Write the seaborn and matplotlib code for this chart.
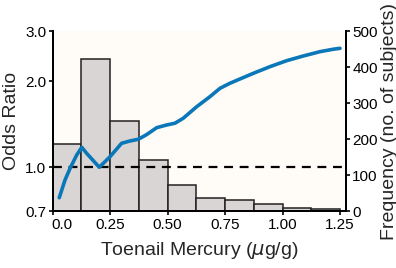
import matplotlib
matplotlib.use("Agg")
import matplotlib.pyplot as plt
import matplotlib.transforms as mtransforms
from matplotlib.ticker import FixedLocator, NullLocator
import numpy as np
import pandas as pd
import seaborn as sns

sns.set_theme(style="ticks")
plt.rcParams['font.family'] = ['Liberation Sans', 'DejaVu Sans']

# Histogram of subjects (bin edges in ug/g, counts)
bin_edges = [0.0, 0.125, 0.25, 0.375, 0.5, 0.625, 0.75, 0.875, 1.0, 1.125, 1.25]
bin_counts = [186, 421, 250, 141, 72, 37, 31, 21, 10, 6]

# Odds-ratio curve
or_x = [0.029, 0.054, 0.076, 0.105, 0.127, 0.148, 0.203, 0.250, 0.300, 0.337,
        0.373, 0.409, 0.453, 0.496, 0.532, 0.568, 0.6265, 0.684, 0.728,
        0.771, 0.815, 0.873, 0.945, 1.018, 1.090, 1.163, 1.220, 1.250]
or_y = [0.781, 0.901, 0.990, 1.103, 1.173, 1.118, 0.999, 1.088, 1.212, 1.235,
        1.252, 1.300, 1.375, 1.405, 1.425, 1.483, 1.628, 1.765, 1.889,
        1.967, 2.037, 2.132, 2.249, 2.361, 2.452, 2.539, 2.589, 2.609]

x_ticks = [0.0, 0.25, 0.50, 0.75, 1.00, 1.25]
x_ticklabels = ["0.0", "0.25", "0.50", "0.75", "1.00", "1.25"]
or_ticks = [0.7, 1.0, 2.0, 3.0]
or_ticklabels = ["0.7", "1.0", "2.0", "3.0"]
freq_ticks = [0, 100, 200, 300, 400, 500]

centers = [(bin_edges[i] + bin_edges[i + 1]) / 2 for i in range(len(bin_counts))]
hist_df = pd.DataFrame({"x": centers, "w": bin_counts})
or_df = pd.DataFrame({"x": or_x, "y": or_y})

fig = plt.figure(figsize=(3.96, 2.68), dpi=100)
ax = fig.add_axes([0.1328, 0.2116, 0.8737 - 0.1328, 0.8843 - 0.2116])
ax.set_facecolor("#FFFBF6")

sns.histplot(data=hist_df, x="x", weights="w", bins=bin_edges, ax=ax,
             color="#D9D5D4", edgecolor="#222222", linewidth=1.1, alpha=1.0)

ax2 = ax.twinx()

# frequency axis (right)
ax.set_xlim(0, 1.276)
ax.set_ylim(0, 500)
ax.yaxis.tick_right()
ax.yaxis.set_label_position("right")
ax.set_yticks(freq_ticks)
ax.set_yticklabels([str(t) for t in freq_ticks])
ax.set_ylabel("Frequency (no. of subjects)", fontsize=14, labelpad=2)
ax.set_xticks(x_ticks)
ax.set_xticklabels(x_ticklabels)
ax.set_xlabel("Toenail Mercury ($\\mu$g/g)", fontsize=14, labelpad=6)

# odds ratio axis (left)
ax2.set_yscale("log")
ax2.axhline(1.0, color="black", linestyle=(0, (4, 3)), linewidth=1.6, zorder=1)
sns.lineplot(data=or_df, x="x", y="y", ax=ax2, color="#0A78B8", linewidth=2.6,
             zorder=3)
ax2.set_ylim(0.7, 3.0)
ax2.set_xlim(0, 1.276)
ax2.yaxis.tick_left()
ax2.yaxis.set_label_position("left")
ax2.yaxis.set_major_locator(FixedLocator(or_ticks))
ax2.yaxis.set_minor_locator(NullLocator())
ax2.set_yticklabels(or_ticklabels)
ax2.set_ylabel("Odds Ratio", fontsize=14, labelpad=4)
ax2.set_xlabel("")

for a in (ax, ax2):
    a.spines["top"].set_visible(False)
    for s in ("left", "right", "bottom"):
        a.spines[s].set_linewidth(1.4)
        a.spines[s].set_color("black")
    a.tick_params(axis="both", which="major", length=3, width=1.2,
                  labelsize=11, pad=1.5, color="black", labelcolor="black")

# Shift the first x tick label slightly to the right, as in the reference
offset = mtransforms.ScaledTranslation(9 / 100, 0, fig.dpi_scale_trans)
lbl = ax.get_xticklabels()[0]
lbl.set_transform(lbl.get_transform() + offset)

fig.savefig("out.png", dpi=100)
